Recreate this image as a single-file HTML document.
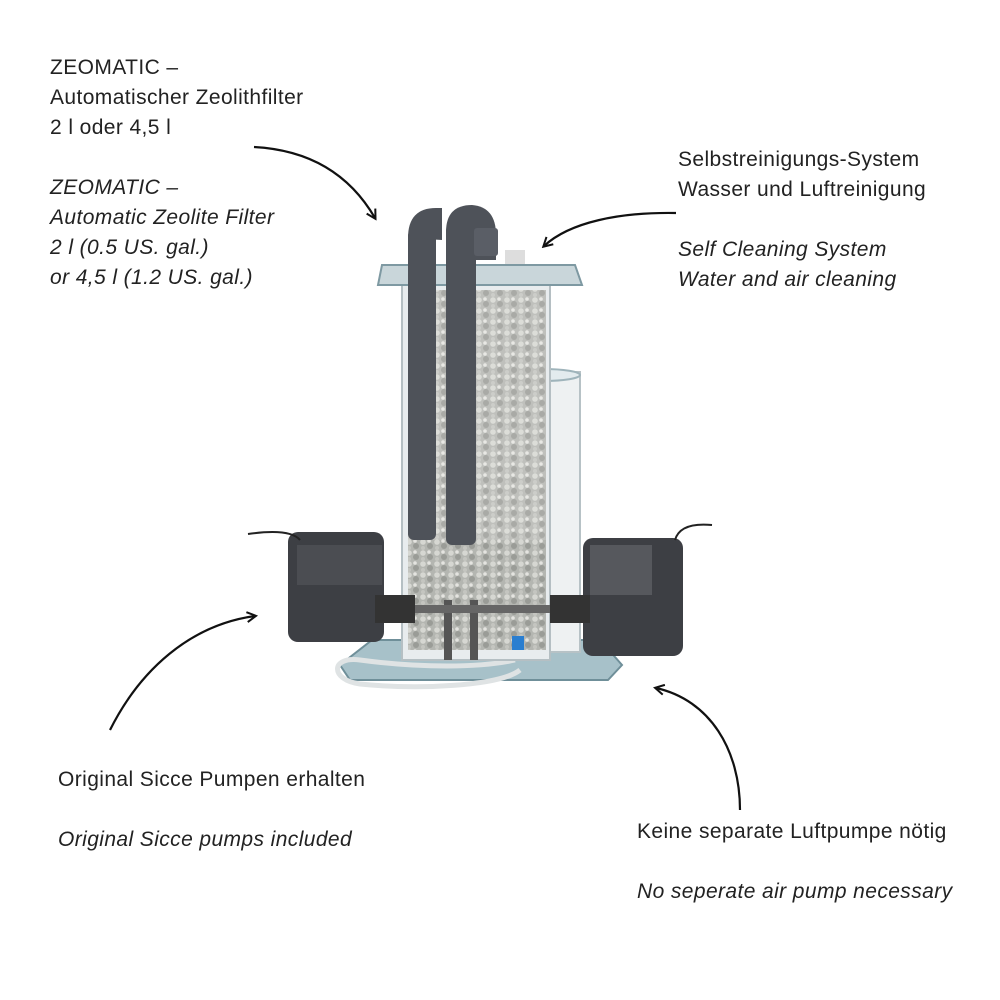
<!DOCTYPE html>
<html><head><meta charset="utf-8"><style>
body{margin:0;background:#fff;}
#c{position:relative;width:1000px;height:1000px;overflow:hidden;font-family:"Liberation Sans",sans-serif;color:#222;font-size:21px;letter-spacing:0.4px;}
.t{position:absolute;line-height:30px;white-space:nowrap;}
.i{font-style:italic;}
svg{position:absolute;left:0;top:0;}
</style></head><body><div id="c">
<svg width="1000" height="1000" viewBox="0 0 1000 1000">
<defs>
<pattern id="g" width="14" height="11" patternUnits="userSpaceOnUse">
<rect width="14" height="11" fill="#b4b6b1"/>
<circle cx="3" cy="3" r="2.8" fill="#d6d7d2"/><circle cx="10" cy="7" r="3" fill="#9a9c97"/>
<circle cx="9" cy="2" r="1.8" fill="#e4e4e0"/><circle cx="3" cy="9" r="2" fill="#c4c5c0"/>
</pattern>
<marker id="a" markerWidth="12" markerHeight="12" refX="9" refY="6" orient="auto" markerUnits="userSpaceOnUse">
<path d="M1,1 L10,6 L1,11" fill="none" stroke="#111" stroke-width="2"/></marker>
</defs>
<path d="M254,147 C310,150 350,175 375,218" fill="none" stroke="#111" stroke-width="2.2" marker-end="url(#a)"/>
<path d="M676,213 C620,212 570,222 544,246" fill="none" stroke="#111" stroke-width="2.2" marker-end="url(#a)"/>
<path d="M110,730 C140,670 190,625 255,616" fill="none" stroke="#111" stroke-width="2.2" marker-end="url(#a)"/>
<path d="M740,810 C740,750 710,700 656,688" fill="none" stroke="#111" stroke-width="2.2" marker-end="url(#a)"/>
<polygon points="372,640 600,640 622,665 608,680 350,680 340,665" fill="#a7c1c9" stroke="#6f8f99" stroke-width="2"/>
<path d="M515,660 C480,668 420,668 360,660 C330,656 330,680 360,684 C420,690 500,686 520,670" fill="none" stroke="#dfe3e4" stroke-width="5"/>
<rect x="505" y="372" width="75" height="280" fill="#eef1f2" stroke="#b7c2c6" stroke-width="2"/>
<ellipse cx="543" cy="375" rx="37" ry="6" fill="#e3ebee" stroke="#9fb4bb" stroke-width="2"/>
<rect x="402" y="275" width="148" height="385" fill="#e8ecee" stroke="#b5bfc3" stroke-width="2"/>
<rect x="408" y="290" width="138" height="360" fill="url(#g)"/>
<rect x="408" y="290" width="138" height="250" fill="#fff" opacity="0.15"/>
<polygon points="382,265 575,265 582,285 378,285" fill="#c9d6da" stroke="#7e99a2" stroke-width="2"/>
<rect x="505" y="250" width="20" height="14" fill="#ddd"/>
<rect x="444" y="600" width="8" height="60" fill="#555"/>
<rect x="470" y="600" width="8" height="60" fill="#555"/>
<rect x="410" y="605" width="140" height="8" fill="#666"/>
<rect x="512" y="636" width="12" height="14" fill="#2a7ed0"/>
<rect x="408" y="230" width="28" height="310" rx="6" fill="#4e5259"/>
<rect x="446" y="225" width="30" height="320" rx="6" fill="#4e5259"/>
<path d="M408,238 Q408,208 436,208 L442,208 L442,240 Z" fill="#4e5259"/>
<path d="M446,232 Q446,205 472,205 Q496,207 496,235 L496,260 L476,260 Z" fill="#4e5259"/>
<rect x="474" y="228" width="24" height="28" rx="3" fill="#5a5e66"/>
<rect x="288" y="532" width="96" height="110" rx="10" fill="#3d3f44"/>
<rect x="297" y="545" width="85" height="40" fill="#4b4d52"/>
<rect x="375" y="595" width="40" height="28" fill="#333"/>
<path d="M248,534 Q290,528 300,540" fill="none" stroke="#222" stroke-width="2"/>
<rect x="583" y="538" width="100" height="118" rx="10" fill="#3d3f44"/>
<rect x="590" y="545" width="62" height="50" fill="#56585d"/>
<rect x="550" y="595" width="40" height="28" fill="#333"/>
<path d="M675,540 Q680,522 712,525" fill="none" stroke="#222" stroke-width="2"/>
</svg>
<div class="t" style="left:50px;top:53px">ZEOMATIC –<br>Automatischer Zeolithfilter<br>2 l oder 4,5 l</div>
<div class="t i" style="left:50px;top:173px">ZEOMATIC –<br>Automatic Zeolite Filter<br>2 l (0.5 US. gal.)<br>or 4,5 l (1.2 US. gal.)</div>
<div class="t" style="left:678px;top:145px">Selbstreinigungs-System<br>Wasser und Luftreinigung</div>
<div class="t i" style="left:678px;top:235px">Self Cleaning System<br>Water and air cleaning</div>
<div class="t" style="left:58px;top:765px">Original Sicce Pumpen erhalten</div>
<div class="t i" style="left:58px;top:825px">Original Sicce pumps included</div>
<div class="t" style="left:637px;top:817px">Keine separate Luftpumpe nötig</div>
<div class="t i" style="left:637px;top:877px">No seperate air pump necessary</div>
</div></body></html>
